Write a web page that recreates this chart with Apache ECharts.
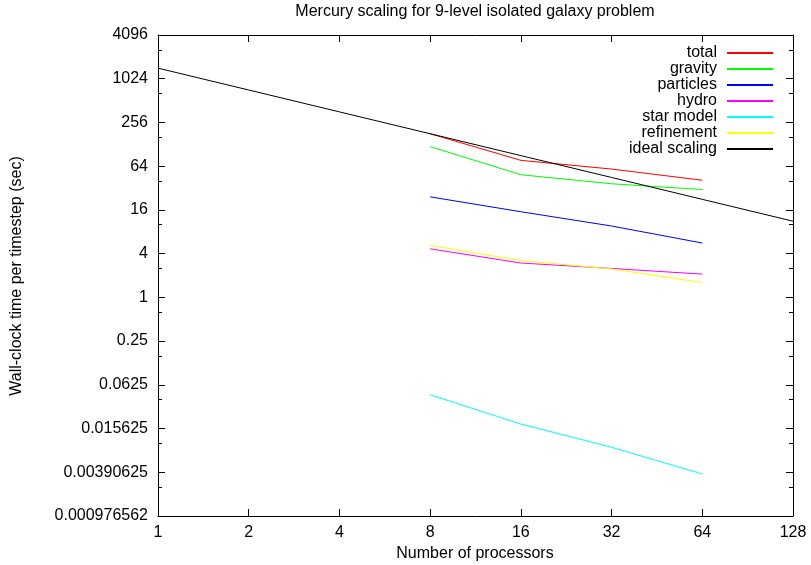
<!DOCTYPE html>
<html>
<head>
<meta charset="utf-8">
<script src="https://cdn.jsdelivr.net/npm/echarts@6/dist/echarts.min.js"></script>
<style>html,body{margin:0;padding:0;background:#fff}#c{width:811px;height:565px}</style>
</head>
<body>
<div id="c"></div>
<script>
var processors = [1, 2, 4, 8, 16, 32, 64, 128];
var measuredProcs = [8, 16, 32, 64];
var total = [179, 77, 58.4, 41];
var gravity = [119, 48.8, 36.6, 30.5];
var particles = [24.2, 15.1, 9.6, 5.6];
var hydro = [4.66, 2.97, 2.5, 2.09];
var starModel = [0.0455, 0.018, 0.00862, 0.0037];
var refinement = [5.17, 3.21, 2.46, 1.6];
var idealScaling = [1432, 716, 358, 179, 89.5, 44.75, 22.375, 11.19];
var yTickLabels = ['0.000976562', '0.00390625', '0.015625', '0.0625', '0.25', '1', '4', '16', '64', '256', '1024', '4096'];
var xTickLabels = ['1', '2', '4', '8', '16', '32', '64', '128'];

var FONT = 'Liberation Sans';
var FS = 16;
function pairs(xs, ys) { return xs.map(function (x, i) { return [x, ys[i]]; }); }
function yLabel(v) {
  var e = Math.round(Math.log(v) / Math.log(4));
  return yTickLabels[e + 5] || '';
}
function xLabel(v) {
  var e = Math.round(Math.log(v) / Math.log(2));
  return xTickLabels[e] || '';
}
var chart = echarts.init(document.getElementById('c'), null, {renderer: 'canvas'});
var axisLine = {show: true, lineStyle: {color: '#000', width: 1}};
var commonX = {type: 'log', logBase: 2, min: 1, max: 128, interval: 1, splitLine: {show: false},
  axisLine: axisLine, axisTick: {show: true, inside: true, length: 7, lineStyle: {color: '#000'}}};
var commonY = {type: 'log', logBase: 4, min: Math.pow(4, -5), max: 4096, interval: 1, splitLine: {show: false},
  axisLine: axisLine, axisTick: {show: true, inside: true, length: 7, lineStyle: {color: '#000'}},
  minorTick: {show: true, splitNumber: 2, length: 4, lineStyle: {color: '#000'}}};

function series(name, color, xs, ys) {
  return {name: name, type: 'line', data: pairs(xs, ys), symbol: 'none', showSymbol: false,
    lineStyle: {color: color, width: 1}, itemStyle: {color: color}, animation: false, silent: true};
}

chart.setOption({
  animation: false,
  backgroundColor: '#fff',
  textStyle: {fontFamily: FONT},
  grid: {left: 158, right: 18, top: 35, bottom: 49, containLabel: false},
  legend: {
    orient: 'vertical', align: 'right', right: 32, top: 40, itemWidth: 46, itemHeight: 14, itemGap: 0,
    selectedMode: false,
    itemStyle: {opacity: 0},
    textStyle: {fontFamily: FONT, fontSize: FS, color: '#000', padding: [0, 5, 0, 0]},
    data: ['total', 'gravity', 'particles', 'hydro', 'star model', 'refinement', 'ideal scaling']
  },
  xAxis: [
    Object.assign({}, commonX, {position: 'bottom',
      axisLabel: {formatter: xLabel, color: '#000', fontSize: FS, fontFamily: FONT, margin: 9}}),
    Object.assign({}, commonX, {position: 'top', axisLabel: {show: false}})
  ],
  yAxis: [
    Object.assign({}, commonY, {position: 'left',
      axisLabel: {formatter: yLabel, color: '#000', fontSize: FS, fontFamily: FONT, margin: 10}}),
    Object.assign({}, commonY, {position: 'right', axisLabel: {show: false}})
  ],
  graphic: [
    {type: 'text', x: 475, y: 12, style: {text: 'Mercury scaling for 9-level isolated galaxy problem',
      fill: '#000', font: FS + 'px "Liberation Sans"', textAlign: 'center', textVerticalAlign: 'middle'}},
    {type: 'text', x: 475, y: 554, style: {text: 'Number of processors',
      fill: '#000', font: FS + 'px "Liberation Sans"', textAlign: 'center', textVerticalAlign: 'middle'}},
    {type: 'text', x: 17, y: 276, rotation: Math.PI / 2, style: {text: 'Wall-clock time per timestep (sec)',
      fill: '#000', font: FS + 'px "Liberation Sans"', textAlign: 'center', textVerticalAlign: 'middle'}}
  ],
  series: [
    series('total', '#ff0000', measuredProcs, total),
    series('gravity', '#00ff00', measuredProcs, gravity),
    series('particles', '#0000ff', measuredProcs, particles),
    series('hydro', '#ff00ff', measuredProcs, hydro),
    series('star model', '#00ffff', measuredProcs, starModel),
    series('refinement', '#ffff00', measuredProcs, refinement),
    series('ideal scaling', '#000000', processors, idealScaling)
  ]
});
</script>
</body>
</html>
